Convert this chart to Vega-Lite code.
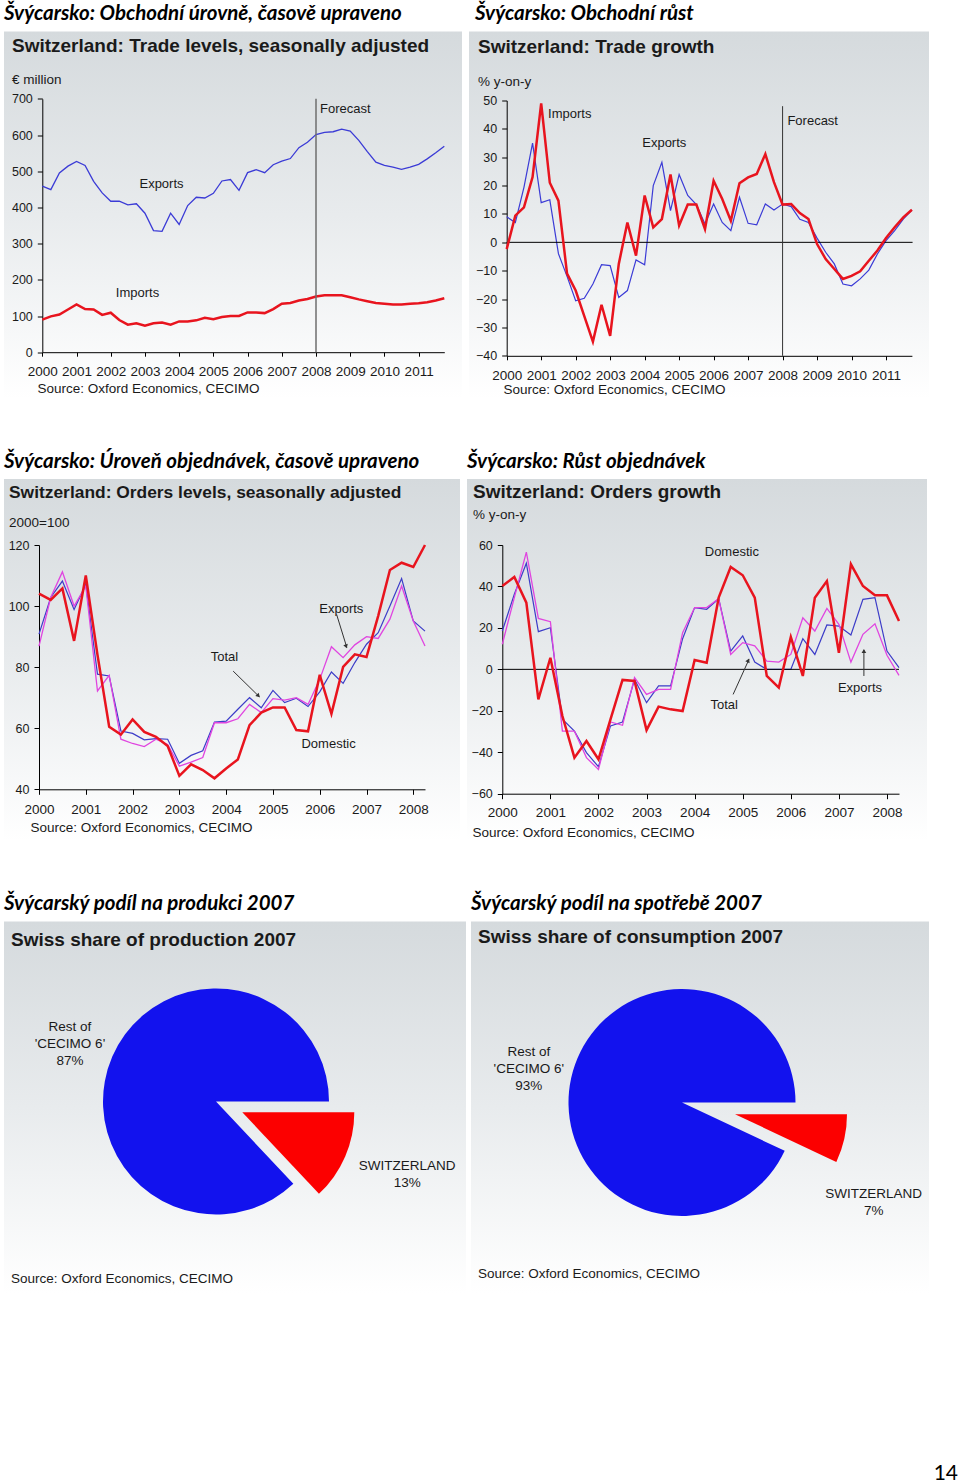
{
  "$schema": "https://vega.github.io/schema/vega-lite/v6.json",
  "background": "white",
  "padding": {"left": 4, "top": 3.5, "right": 0, "bottom": 0},
  "title": {"text": "14", "orient": "bottom", "anchor": "end", "offset": 169, "dx": 29, "font": "Lato", "fontSize": 21, "fontWeight": "normal", "color": "#000000"},
  "datasets": {
    "tradeLevels": [
      {"year": 2000.00, "Exports": 459, "Imports": 90},
      {"year": 2000.25, "Exports": 449, "Imports": 99},
      {"year": 2000.50, "Exports": 495, "Imports": 104},
      {"year": 2000.75, "Exports": 514, "Imports": 118},
      {"year": 2001.00, "Exports": 527, "Imports": 132},
      {"year": 2001.25, "Exports": 516, "Imports": 119},
      {"year": 2001.50, "Exports": 472, "Imports": 118},
      {"year": 2001.75, "Exports": 440, "Imports": 103},
      {"year": 2002.00, "Exports": 417, "Imports": 109},
      {"year": 2002.25, "Exports": 417, "Imports": 89},
      {"year": 2002.50, "Exports": 407, "Imports": 76},
      {"year": 2002.75, "Exports": 410, "Imports": 80},
      {"year": 2003.00, "Exports": 384, "Imports": 73},
      {"year": 2003.25, "Exports": 336, "Imports": 80},
      {"year": 2003.50, "Exports": 334, "Imports": 82},
      {"year": 2003.75, "Exports": 384, "Imports": 76},
      {"year": 2004.00, "Exports": 353, "Imports": 85},
      {"year": 2004.25, "Exports": 405, "Imports": 85},
      {"year": 2004.50, "Exports": 428, "Imports": 88},
      {"year": 2004.75, "Exports": 426, "Imports": 95},
      {"year": 2005.00, "Exports": 439, "Imports": 91},
      {"year": 2005.25, "Exports": 473, "Imports": 97},
      {"year": 2005.50, "Exports": 477, "Imports": 100},
      {"year": 2005.75, "Exports": 447, "Imports": 100},
      {"year": 2006.00, "Exports": 496, "Imports": 110},
      {"year": 2006.25, "Exports": 504, "Imports": 110},
      {"year": 2006.50, "Exports": 496, "Imports": 108},
      {"year": 2006.75, "Exports": 518, "Imports": 119},
      {"year": 2007.00, "Exports": 528, "Imports": 134},
      {"year": 2007.25, "Exports": 535, "Imports": 136},
      {"year": 2007.50, "Exports": 565, "Imports": 143},
      {"year": 2007.75, "Exports": 580, "Imports": 147},
      {"year": 2008.00, "Exports": 601, "Imports": 154},
      {"year": 2008.25, "Exports": 607, "Imports": 157},
      {"year": 2008.50, "Exports": 609, "Imports": 157},
      {"year": 2008.75, "Exports": 616, "Imports": 157},
      {"year": 2009.00, "Exports": 611, "Imports": 152},
      {"year": 2009.25, "Exports": 585, "Imports": 146},
      {"year": 2009.50, "Exports": 554, "Imports": 141},
      {"year": 2009.75, "Exports": 525, "Imports": 136},
      {"year": 2010.00, "Exports": 516, "Imports": 134},
      {"year": 2010.25, "Exports": 511, "Imports": 132},
      {"year": 2010.50, "Exports": 505, "Imports": 132},
      {"year": 2010.75, "Exports": 511, "Imports": 134},
      {"year": 2011.00, "Exports": 519, "Imports": 135},
      {"year": 2011.25, "Exports": 534, "Imports": 138},
      {"year": 2011.50, "Exports": 551, "Imports": 143},
      {"year": 2011.75, "Exports": 569, "Imports": 149}
    ],
    "tradeGrowth": [
      {"year": 2000.00, "Exports": 9, "Imports": -2.4},
      {"year": 2000.25, "Exports": 7, "Imports": 9.4},
      {"year": 2000.50, "Exports": 19.4, "Imports": 12.3},
      {"year": 2000.75, "Exports": 35, "Imports": 23},
      {"year": 2001.00, "Exports": 14, "Imports": 49},
      {"year": 2001.25, "Exports": 15, "Imports": 21},
      {"year": 2001.50, "Exports": -4, "Imports": 14.7},
      {"year": 2001.75, "Exports": -12, "Imports": -11},
      {"year": 2002.00, "Exports": -20.6, "Imports": -17},
      {"year": 2002.25, "Exports": -19.7, "Imports": -26},
      {"year": 2002.50, "Exports": -14.7, "Imports": -35},
      {"year": 2002.75, "Exports": -7.9, "Imports": -22},
      {"year": 2003.00, "Exports": -8.2, "Imports": -33},
      {"year": 2003.25, "Exports": -19.4, "Imports": -7.6},
      {"year": 2003.50, "Exports": -17, "Imports": 7},
      {"year": 2003.75, "Exports": -6.2, "Imports": -4.7},
      {"year": 2004.00, "Exports": -7.9, "Imports": 16.5},
      {"year": 2004.25, "Exports": 20, "Imports": 5.3},
      {"year": 2004.50, "Exports": 28.2, "Imports": 8.2},
      {"year": 2004.75, "Exports": 11.2, "Imports": 23.9},
      {"year": 2005.00, "Exports": 23.9, "Imports": 5.9},
      {"year": 2005.25, "Exports": 16.5, "Imports": 13.3},
      {"year": 2005.50, "Exports": 13.3, "Imports": 13.3},
      {"year": 2005.75, "Exports": 6.5, "Imports": 4.7},
      {"year": 2006.00, "Exports": 13.5, "Imports": 21.7},
      {"year": 2006.25, "Exports": 7, "Imports": 15.3},
      {"year": 2006.50, "Exports": 4.1, "Imports": 7.6},
      {"year": 2006.75, "Exports": 15.9, "Imports": 20.8},
      {"year": 2007.00, "Exports": 6.7, "Imports": 22.9},
      {"year": 2007.25, "Exports": 6.2, "Imports": 24.1},
      {"year": 2007.50, "Exports": 13.5, "Imports": 31.1},
      {"year": 2007.75, "Exports": 11.4, "Imports": 21.2},
      {"year": 2008.00, "Exports": 13.5, "Imports": 13.3},
      {"year": 2008.25, "Exports": 12.6, "Imports": 13.5},
      {"year": 2008.50, "Exports": 8.1, "Imports": 10.3},
      {"year": 2008.75, "Exports": 7, "Imports": 8.2},
      {"year": 2009.00, "Exports": 1.5, "Imports": -0.6},
      {"year": 2009.25, "Exports": -3.5, "Imports": -5.9},
      {"year": 2009.50, "Exports": -7.6, "Imports": -9.4},
      {"year": 2009.75, "Exports": -14.7, "Imports": -12.9},
      {"year": 2010.00, "Exports": -15.3, "Imports": -11.8},
      {"year": 2010.25, "Exports": -12.9, "Imports": -10.2},
      {"year": 2010.50, "Exports": -9.8, "Imports": -6.5},
      {"year": 2010.75, "Exports": -4.1, "Imports": -2.9},
      {"year": 2011.00, "Exports": 0.6, "Imports": 1.5},
      {"year": 2011.25, "Exports": 4.1, "Imports": 5.3},
      {"year": 2011.50, "Exports": 8.2, "Imports": 8.8},
      {"year": 2011.75, "Exports": 11.4, "Imports": 11.5}
    ],
    "ordersLevels": [
      {"year": 2000.00, "Domestic": 104.1, "Total": 90.8, "Exports": 86.9},
      {"year": 2000.25, "Domestic": 102, "Total": 102.8, "Exports": 102.8},
      {"year": 2000.50, "Domestic": 105.8, "Total": 108.2, "Exports": 111.2},
      {"year": 2000.75, "Domestic": 88.6, "Total": 98.9, "Exports": 100},
      {"year": 2001.00, "Domestic": 110, "Total": 107.1, "Exports": 106.6},
      {"year": 2001.25, "Domestic": 84, "Total": 77.7, "Exports": 72.2},
      {"year": 2001.50, "Domestic": 60.5, "Total": 77.1, "Exports": 77.3},
      {"year": 2001.75, "Domestic": 57.9, "Total": 59.1, "Exports": 56.4},
      {"year": 2002.00, "Domestic": 62.9, "Total": 58.3, "Exports": 55},
      {"year": 2002.25, "Domestic": 58.8, "Total": 56.2, "Exports": 54},
      {"year": 2002.50, "Domestic": 57.2, "Total": 56.6, "Exports": 56.4},
      {"year": 2002.75, "Domestic": 54.2, "Total": 56.4, "Exports": 54.7},
      {"year": 2003.00, "Domestic": 44.4, "Total": 48.5, "Exports": 47.6},
      {"year": 2003.25, "Domestic": 48.2, "Total": 51.1, "Exports": 48.9},
      {"year": 2003.50, "Domestic": 46.3, "Total": 52.6, "Exports": 50.4},
      {"year": 2003.75, "Domestic": 43.6, "Total": 62, "Exports": 61.8},
      {"year": 2004.00, "Domestic": 46.8, "Total": 62.3, "Exports": 61.8},
      {"year": 2004.25, "Domestic": 49.8, "Total": 66.2, "Exports": 63.1},
      {"year": 2004.50, "Domestic": 61, "Total": 70, "Exports": 67.8},
      {"year": 2004.75, "Domestic": 65.1, "Total": 66.7, "Exports": 65.1},
      {"year": 2005.00, "Domestic": 66.8, "Total": 72.4, "Exports": 69.7},
      {"year": 2005.25, "Domestic": 66.8, "Total": 68.4, "Exports": 69.2},
      {"year": 2005.50, "Domestic": 59.4, "Total": 69.8, "Exports": 70},
      {"year": 2005.75, "Domestic": 59, "Total": 67.1, "Exports": 67.8},
      {"year": 2006.00, "Domestic": 77.5, "Total": 71.9, "Exports": 76},
      {"year": 2006.25, "Domestic": 64.7, "Total": 78.4, "Exports": 86.7},
      {"year": 2006.50, "Domestic": 80.1, "Total": 74.7, "Exports": 83.1},
      {"year": 2006.75, "Domestic": 84.2, "Total": 81.5, "Exports": 87.3},
      {"year": 2007.00, "Domestic": 83.3, "Total": 87.5, "Exports": 90},
      {"year": 2007.25, "Domestic": 96.8, "Total": 91.3, "Exports": 89.4},
      {"year": 2007.50, "Domestic": 111.8, "Total": 100, "Exports": 95.7},
      {"year": 2007.75, "Domestic": 114.2, "Total": 109, "Exports": 106.6},
      {"year": 2008.00, "Domestic": 112.8, "Total": 95.1, "Exports": 95.1},
      {"year": 2008.25, "Domestic": 120, "Total": 91.8, "Exports": 86.9}
    ],
    "ordersGrowth": [
      {"year": 2000.00, "Domestic": 40.2, "Total": 18.5, "Exports": 12.1},
      {"year": 2000.25, "Domestic": 44.6, "Total": 36.2, "Exports": 34.6},
      {"year": 2000.50, "Domestic": 32.2, "Total": 51.2, "Exports": 56.6},
      {"year": 2000.75, "Domestic": -14.5, "Total": 18.2, "Exports": 24.6},
      {"year": 2001.00, "Domestic": 5.6, "Total": 20.1, "Exports": 23},
      {"year": 2001.25, "Domestic": -22.5, "Total": -24.1, "Exports": -29.8},
      {"year": 2001.50, "Domestic": -42.6, "Total": -29.8, "Exports": -29.8},
      {"year": 2001.75, "Domestic": -34.6, "Total": -40.2, "Exports": -42.6},
      {"year": 2002.00, "Domestic": -43.4, "Total": -47, "Exports": -48.3},
      {"year": 2002.25, "Domestic": -24.1, "Total": -27.3, "Exports": -25.4},
      {"year": 2002.50, "Domestic": -5.1, "Total": -25.4, "Exports": -27},
      {"year": 2002.75, "Domestic": -5.6, "Total": -4.8, "Exports": -4},
      {"year": 2003.00, "Domestic": -29.3, "Total": -16.1, "Exports": -12.1},
      {"year": 2003.25, "Domestic": -18, "Total": -8, "Exports": -9.7},
      {"year": 2003.50, "Domestic": -19.3, "Total": -8, "Exports": -9.7},
      {"year": 2003.75, "Domestic": -20.1, "Total": 14.8, "Exports": 17.7},
      {"year": 2004.00, "Domestic": 4.5, "Total": 29.8, "Exports": 29.8},
      {"year": 2004.25, "Domestic": 3.2, "Total": 29, "Exports": 29.8},
      {"year": 2004.50, "Domestic": 34.6, "Total": 34.1, "Exports": 34.1},
      {"year": 2004.75, "Domestic": 49.4, "Total": 8.8, "Exports": 7.2},
      {"year": 2005.00, "Domestic": 45.4, "Total": 16.1, "Exports": 12.9},
      {"year": 2005.25, "Domestic": 34.6, "Total": 3.5, "Exports": 11.3},
      {"year": 2005.50, "Domestic": -3.2, "Total": 0, "Exports": 4},
      {"year": 2005.75, "Domestic": -8.8, "Total": 0, "Exports": 3.5},
      {"year": 2006.00, "Domestic": 15.6, "Total": 0, "Exports": 7.2},
      {"year": 2006.25, "Domestic": -3.2, "Total": 14.8, "Exports": 24.9},
      {"year": 2006.50, "Domestic": 34.6, "Total": 7.2, "Exports": 18.5},
      {"year": 2006.75, "Domestic": 42.6, "Total": 21.4, "Exports": 29.4},
      {"year": 2007.00, "Domestic": 8, "Total": 20.9, "Exports": 21.7},
      {"year": 2007.25, "Domestic": 50.7, "Total": 16.6, "Exports": 3.5},
      {"year": 2007.50, "Domestic": 40.2, "Total": 33.8, "Exports": 16.9},
      {"year": 2007.75, "Domestic": 35.7, "Total": 34.6, "Exports": 22},
      {"year": 2008.00, "Domestic": 35.7, "Total": 8.8, "Exports": 6.8},
      {"year": 2008.25, "Domestic": 23.3, "Total": 0.8, "Exports": -2.9}
    ],
    "production": [
      {"region": "SWITZERLAND", "share": 13},
      {"region": "Rest of\n'CECIMO 6'", "share": 87}
    ],
    "consumption": [
      {"region": "SWITZERLAND", "share": 7},
      {"region": "Rest of\n'CECIMO 6'", "share": 93}
    ]
  },
  "vconcat": [
    {
      "spacing": 7,
      "hconcat": [
        {
          "title": {"text": "Švýcarsko: Obchodní úrovně, časově upraveno", "anchor": "start", "frame": "group", "offset": 7, "dx": 0, "font": "Lato", "fontSize": 20.5, "fontStyle": "italic", "fontWeight": "bold", "color": "#000000"},
          "vconcat": [
            {
              "width": 458, "height": 367,
              "title": {"text": "Switzerland: Trade levels, seasonally adjusted", "subtitle": "€ million", "anchor": "start", "frame": "group", "offset": -54.7, "dx": 8, "subtitlePadding": 16.4, "font": "Liberation Sans", "fontSize": 19, "fontWeight": "bold", "color": "#1a1a1a", "subtitleFont": "Liberation Sans", "subtitleFontSize": 13.5, "subtitleColor": "#1a1a1a"},
              "data": {"name": "tradeLevels"},
              "layer": [
                {
                  "mark": {"type": "line", "color": "#3b3bd6", "strokeWidth": 1.3},
                  "encoding": {
                    "x": {"field": "year", "type": "quantitative", "scale": {"domain": [2000, 2011.75], "range": [38.3, 440.3], "nice": false, "zero": false},
                          "axis": {"values": [2000, 2001, 2002, 2003, 2004, 2005, 2006, 2007, 2008, 2009, 2010, 2011], "format": "d", "offset": -46.3, "tickSize": 4, "labelPadding": 8.3, "labelFontSize": 13.5, "title": "Source: Oxford Economics, CECIMO", "titleX": 33, "titleY": 29.5, "titleAlign": "left", "titleBaseline": "top"}},
                    "y": {"field": "Exports", "type": "quantitative", "scale": {"domain": [0, 700], "range": [320.7, 67.3], "nice": false, "zero": false},
                          "axis": {"values": [0, 100, 200, 300, 400, 500, 600, 700], "format": "d", "offset": -38.3, "tickSize": 5, "labelPadding": 5, "labelFontSize": 12.5, "title": null}}
                  }
                },
                {
                  "mark": {"type": "line", "color": "#e8141e", "strokeWidth": 2.5},
                  "encoding": {
                    "x": {"field": "year", "type": "quantitative"},
                    "y": {"field": "Imports", "type": "quantitative"}
                  }
                },
                {
                  "data": {"values": [{}]},
                  "mark": {"type": "rule", "color": "#6e6e6e", "strokeWidth": 1.5},
                  "encoding": {
                    "x": {"datum": 2008, "type": "quantitative"},
                    "y": {"datum": 0, "type": "quantitative"},
                    "y2": {"datum": 700}
                  }
                },
                {
                  "data": {"values": [{}]},
                  "mark": {"type": "text", "align": "left", "baseline": "middle"},
                  "encoding": {"x": {"datum": 2008.12, "type": "quantitative"}, "y": {"datum": 673, "type": "quantitative"}, "text": {"value": "Forecast"}}
                },
                {
                  "data": {"values": [{}]},
                  "mark": {"type": "text", "align": "left", "baseline": "middle"},
                  "encoding": {"x": {"datum": 2002.84, "type": "quantitative"}, "y": {"datum": 466, "type": "quantitative"}, "text": {"value": "Exports"}}
                },
                {
                  "data": {"values": [{}]},
                  "mark": {"type": "text", "align": "left", "baseline": "middle"},
                  "encoding": {"x": {"datum": 2002.15, "type": "quantitative"}, "y": {"datum": 164, "type": "quantitative"}, "text": {"value": "Imports"}}
                }
              ]
            }
          ]
        },
        {
          "title": {"text": "Švýcarsko: Obchodní růst", "anchor": "start", "frame": "group", "offset": 7, "dx": 6, "font": "Lato", "fontSize": 20.5, "fontStyle": "italic", "fontWeight": "bold", "color": "#000000"},
          "vconcat": [
            {
              "width": 460, "height": 367,
              "title": {"text": "Switzerland: Trade growth", "subtitle": "% y-on-y", "anchor": "start", "frame": "group", "offset": -56.7, "dx": 9, "subtitlePadding": 17.4, "font": "Liberation Sans", "fontSize": 19, "fontWeight": "bold", "color": "#1a1a1a", "subtitleFont": "Liberation Sans", "subtitleFontSize": 13.5, "subtitleColor": "#1a1a1a"},
              "data": {"name": "tradeGrowth"},
              "layer": [
                {
                  "mark": {"type": "line", "color": "#3b3bd6", "strokeWidth": 1.2},
                  "encoding": {
                    "x": {"field": "year", "type": "quantitative", "scale": {"domain": [2000, 2011.75], "range": [37.7, 442.9], "nice": false, "zero": false},
                          "axis": {"values": [2000, 2001, 2002, 2003, 2004, 2005, 2006, 2007, 2008, 2009, 2010, 2011], "format": "d", "offset": -42.7, "tickSize": 4, "labelPadding": 8.2, "labelFontSize": 13.5, "title": "Source: Oxford Economics, CECIMO", "titleX": 34, "titleY": 26.9, "titleAlign": "left", "titleBaseline": "top"}},
                    "y": {"field": "Exports", "type": "quantitative", "scale": {"domain": [-40, 50], "range": [324.3, 69], "nice": false, "zero": false},
                          "axis": {"values": [-40, -30, -20, -10, 0, 10, 20, 30, 40, 50], "format": "d", "offset": -37.7, "tickSize": 5, "labelPadding": 5, "labelFontSize": 12.5, "title": null}}
                  }
                },
                {
                  "data": {"values": [{}]},
                  "mark": {"type": "rule", "color": "#000000", "strokeWidth": 1},
                  "encoding": {
                    "x": {"datum": 2000, "type": "quantitative"},
                    "x2": {"datum": 2011.77},
                    "y": {"datum": 0, "type": "quantitative"}
                  }
                },
                {
                  "data": {"values": [{}]},
                  "mark": {"type": "rule", "color": "#333333", "strokeWidth": 1},
                  "encoding": {
                    "x": {"datum": 2008, "type": "quantitative"},
                    "y": {"datum": -40, "type": "quantitative"},
                    "y2": {"datum": 48}
                  }
                },
                {
                  "mark": {"type": "line", "color": "#e8141e", "strokeWidth": 2.5},
                  "encoding": {
                    "x": {"field": "year", "type": "quantitative"},
                    "y": {"field": "Imports", "type": "quantitative"}
                  }
                },
                {
                  "data": {"values": [{}]},
                  "mark": {"type": "text", "align": "left", "baseline": "middle"},
                  "encoding": {"x": {"datum": 2008.14, "type": "quantitative"}, "y": {"datum": 42.6, "type": "quantitative"}, "text": {"value": "Forecast"}}
                },
                {
                  "data": {"values": [{}]},
                  "mark": {"type": "text", "align": "left", "baseline": "middle"},
                  "encoding": {"x": {"datum": 2001.2, "type": "quantitative"}, "y": {"datum": 45.3, "type": "quantitative"}, "text": {"value": "Imports"}}
                },
                {
                  "data": {"values": [{}]},
                  "mark": {"type": "text", "align": "left", "baseline": "middle"},
                  "encoding": {"x": {"datum": 2003.93, "type": "quantitative"}, "y": {"datum": 35, "type": "quantitative"}, "text": {"value": "Exports"}}
                }
              ]
            }
          ]
        }
      ]
    },
    {
      "spacing": 7,
      "hconcat": [
        {
          "title": {"text": "Švýcarsko: Úroveň objednávek, časově upraveno", "anchor": "start", "frame": "group", "offset": 7, "dx": 0, "font": "Lato", "fontSize": 20.5, "fontStyle": "italic", "fontWeight": "bold", "color": "#000000"},
          "vconcat": [
            {
              "width": 456, "height": 362,
              "title": {"text": "Switzerland: Orders levels, seasonally adjusted", "subtitle": "2000=100", "anchor": "start", "frame": "group", "offset": -50.7, "dx": 5, "subtitlePadding": 15.3, "font": "Liberation Sans", "fontSize": 17.4, "fontWeight": "bold", "color": "#1a1a1a", "subtitleFont": "Liberation Sans", "subtitleFontSize": 13.5, "subtitleColor": "#1a1a1a"},
              "data": {"name": "ordersLevels"},
              "layer": [
                {
                  "mark": {"type": "line", "color": "#3c3cc8", "strokeWidth": 1.2},
                  "encoding": {
                    "x": {"field": "year", "type": "quantitative", "scale": {"domain": [2000, 2008.25], "range": [35, 421], "nice": false, "zero": false},
                          "axis": {"values": [2000, 2001, 2002, 2003, 2004, 2005, 2006, 2007, 2008], "format": "d", "offset": -51.7, "tickSize": 5, "labelPadding": 7.8, "labelFontSize": 13.5, "title": "Source: Oxford Economics, CECIMO", "titleX": 26, "titleY": 31.6, "titleAlign": "left", "titleBaseline": "top"}},
                    "y": {"field": "Total", "type": "quantitative", "scale": {"domain": [40, 120], "range": [310.3, 66], "nice": false, "zero": false},
                          "axis": {"values": [40, 60, 80, 100, 120], "format": "d", "offset": -35, "tickSize": 5, "labelPadding": 5, "labelFontSize": 12.5, "title": null}}
                  }
                },
                {
                  "mark": {"type": "line", "color": "#e045e0", "strokeWidth": 1.3},
                  "encoding": {
                    "x": {"field": "year", "type": "quantitative"},
                    "y": {"field": "Exports", "type": "quantitative"}
                  }
                },
                {
                  "mark": {"type": "line", "color": "#e8141e", "strokeWidth": 2.5},
                  "encoding": {
                    "x": {"field": "year", "type": "quantitative"},
                    "y": {"field": "Domestic", "type": "quantitative"}
                  }
                },
                {
                  "data": {"values": [{}]},
                  "mark": {"type": "text", "align": "left", "baseline": "middle"},
                  "encoding": {"x": {"datum": 2005.99, "type": "quantitative"}, "y": {"datum": 99.1, "type": "quantitative"}, "text": {"value": "Exports"}}
                },
                {
                  "data": {"values": [{}]},
                  "mark": {"type": "text", "align": "left", "baseline": "middle"},
                  "encoding": {"x": {"datum": 2003.67, "type": "quantitative"}, "y": {"datum": 83.4, "type": "quantitative"}, "text": {"value": "Total"}}
                },
                {
                  "data": {"values": [{}]},
                  "mark": {"type": "text", "align": "left", "baseline": "middle"},
                  "encoding": {"x": {"datum": 2005.61, "type": "quantitative"}, "y": {"datum": 54.9, "type": "quantitative"}, "text": {"value": "Domestic"}}
                },
                {
                  "data": {"values": [{}]},
                  "mark": {"type": "rule", "color": "#333333", "strokeWidth": 1},
                  "encoding": {"x": {"datum": 2006.36, "type": "quantitative"}, "y": {"datum": 97.3, "type": "quantitative"}, "x2": {"datum": 2006.58}, "y2": {"datum": 86.4}}
                },
                {
                  "data": {"values": [{}]},
                  "mark": {"type": "point", "shape": "triangle", "filled": true, "color": "#333333", "size": 22, "opacity": 1},
                  "encoding": {"x": {"datum": 2006.56, "type": "quantitative"}, "y": {"datum": 87, "type": "quantitative"}, "angle": {"value": 163}}
                },
                {
                  "data": {"values": [{}]},
                  "mark": {"type": "rule", "color": "#333333", "strokeWidth": 1},
                  "encoding": {"x": {"datum": 2004.15, "type": "quantitative"}, "y": {"datum": 78.7, "type": "quantitative"}, "x2": {"datum": 2004.71}, "y2": {"datum": 70.3}}
                },
                {
                  "data": {"values": [{}]},
                  "mark": {"type": "point", "shape": "triangle", "filled": true, "color": "#333333", "size": 22, "opacity": 1},
                  "encoding": {"x": {"datum": 2004.68, "type": "quantitative"}, "y": {"datum": 70.8, "type": "quantitative"}, "angle": {"value": 135}}
                }
              ]
            }
          ]
        },
        {
          "title": {"text": "Švýcarsko: Růst objednávek", "anchor": "start", "frame": "group", "offset": 7, "dx": 0, "font": "Lato", "fontSize": 20.5, "fontStyle": "italic", "fontWeight": "bold", "color": "#000000"},
          "vconcat": [
            {
              "width": 460, "height": 362,
              "title": {"text": "Switzerland: Orders growth", "subtitle": "% y-on-y", "anchor": "start", "frame": "group", "offset": -42.7, "dx": 6, "subtitlePadding": 6.4, "font": "Liberation Sans", "fontSize": 19, "fontWeight": "bold", "color": "#1a1a1a", "subtitleFont": "Liberation Sans", "subtitleFontSize": 13.5, "subtitleColor": "#1a1a1a"},
              "data": {"name": "ordersGrowth"},
              "layer": [
                {
                  "mark": {"type": "line", "color": "#3c3cc8", "strokeWidth": 1.2},
                  "encoding": {
                    "x": {"field": "year", "type": "quantitative", "scale": {"domain": [2000, 2008.25], "range": [35.3, 432], "nice": false, "zero": false},
                          "axis": {"values": [2000, 2001, 2002, 2003, 2004, 2005, 2006, 2007, 2008], "format": "d", "offset": -47.3, "tickSize": 5, "labelPadding": 7.2, "labelFontSize": 13.5, "title": "Source: Oxford Economics, CECIMO", "titleX": 5, "titleY": 31.5, "titleAlign": "left", "titleBaseline": "top"}},
                    "y": {"field": "Total", "type": "quantitative", "scale": {"domain": [-60, 60], "range": [314.7, 66], "nice": false, "zero": false},
                          "axis": {"values": [-60, -40, -20, 0, 20, 40, 60], "format": "d", "offset": -35.3, "tickSize": 5, "labelPadding": 5, "labelFontSize": 12.5, "title": null}}
                  }
                },
                {
                  "data": {"values": [{}]},
                  "mark": {"type": "rule", "color": "#000000", "strokeWidth": 1},
                  "encoding": {
                    "x": {"datum": 2000, "type": "quantitative"},
                    "x2": {"datum": 2008.25},
                    "y": {"datum": 0, "type": "quantitative"}
                  }
                },
                {
                  "mark": {"type": "line", "color": "#e045e0", "strokeWidth": 1.3},
                  "encoding": {
                    "x": {"field": "year", "type": "quantitative"},
                    "y": {"field": "Exports", "type": "quantitative"}
                  }
                },
                {
                  "mark": {"type": "line", "color": "#e8141e", "strokeWidth": 2.5},
                  "encoding": {
                    "x": {"field": "year", "type": "quantitative"},
                    "y": {"field": "Domestic", "type": "quantitative"}
                  }
                },
                {
                  "data": {"values": [{}]},
                  "mark": {"type": "text", "align": "left", "baseline": "middle"},
                  "encoding": {"x": {"datum": 2004.21, "type": "quantitative"}, "y": {"datum": 56.8, "type": "quantitative"}, "text": {"value": "Domestic"}}
                },
                {
                  "data": {"values": [{}]},
                  "mark": {"type": "text", "align": "left", "baseline": "middle"},
                  "encoding": {"x": {"datum": 2004.33, "type": "quantitative"}, "y": {"datum": -17.1, "type": "quantitative"}, "text": {"value": "Total"}}
                },
                {
                  "data": {"values": [{}]},
                  "mark": {"type": "text", "align": "left", "baseline": "middle"},
                  "encoding": {"x": {"datum": 2006.98, "type": "quantitative"}, "y": {"datum": -9.2, "type": "quantitative"}, "text": {"value": "Exports"}}
                },
                {
                  "data": {"values": [{}]},
                  "mark": {"type": "rule", "color": "#333333", "strokeWidth": 1},
                  "encoding": {"x": {"datum": 2004.8, "type": "quantitative"}, "y": {"datum": -12.1, "type": "quantitative"}, "x2": {"datum": 2005.13}, "y2": {"datum": 4.8}}
                },
                {
                  "data": {"values": [{}]},
                  "mark": {"type": "point", "shape": "triangle", "filled": true, "color": "#333333", "size": 22, "opacity": 1},
                  "encoding": {"x": {"datum": 2005.11, "type": "quantitative"}, "y": {"datum": 4.0, "type": "quantitative"}, "angle": {"value": 25}}
                },
                {
                  "data": {"values": [{}]},
                  "mark": {"type": "rule", "color": "#333333", "strokeWidth": 1},
                  "encoding": {"x": {"datum": 2007.52, "type": "quantitative"}, "y": {"datum": -3.2, "type": "quantitative"}, "y2": {"datum": 9.3}}
                },
                {
                  "data": {"values": [{}]},
                  "mark": {"type": "point", "shape": "triangle", "filled": true, "color": "#333333", "size": 22, "opacity": 1},
                  "encoding": {"x": {"datum": 2007.52, "type": "quantitative"}, "y": {"datum": 8.5, "type": "quantitative"}, "angle": {"value": 0}}
                }
              ]
            }
          ]
        }
      ]
    },
    {
      "spacing": 5,
      "hconcat": [
        {
          "title": {"text": "Švýcarský podíl na produkci 2007", "anchor": "start", "frame": "group", "offset": 7, "dx": 0, "font": "Lato", "fontSize": 20.5, "fontStyle": "italic", "fontWeight": "bold", "color": "#000000"},
          "vconcat": [
            {
              "width": 462, "height": 372,
              "title": {"text": "Swiss share of production 2007", "subtitle": "Source: Oxford Economics, CECIMO", "anchor": "start", "frame": "group", "offset": -363.7, "dx": 7, "subtitlePadding": 321.4, "font": "Liberation Sans", "fontSize": 19, "fontWeight": "bold", "color": "#1a1a1a", "subtitleFont": "Liberation Sans", "subtitleFontSize": 13.5, "subtitleColor": "#1a1a1a"},
              "data": {"name": "production"},
              "transform": [{"calculate": "datum.region + '\\n' + datum.share + '%'", "as": "label"}],
              "layer": [
                {
                  "data": {"values": [{}]},
                  "mark": {"type": "rect", "color": {"gradient": "linear", "x1": 0, "y1": 0, "x2": 0, "y2": 1, "stops": [{"offset": 0, "color": "#d5dadd"}, {"offset": 0.5, "color": "#e8ebed"}, {"offset": 1, "color": "#ffffff"}]}},
                  "encoding": {}
                },
                {
                  "mark": {"type": "arc", "outerRadius": 113, "xOffset": -19, "yOffset": -6},
                  "encoding": {
                    "theta": {"field": "share", "type": "quantitative", "stack": true, "scale": {"domain": [0, 100], "range": [1.5708, 7.854]}},
                    "order": {"field": "share", "type": "quantitative", "sort": "ascending"},
                    "fill": {"condition": {"test": "datum.region === 'SWITZERLAND'", "value": "transparent"}, "value": "#1212ee"}
                  }
                },
                {
                  "mark": {"type": "arc", "outerRadius": 112, "xOffset": 7.3, "yOffset": 4.7},
                  "encoding": {
                    "theta": {"field": "share", "type": "quantitative", "stack": true},
                    "order": {"field": "share", "type": "quantitative", "sort": "ascending"},
                    "fill": {"condition": {"test": "datum.region === 'SWITZERLAND'", "value": "#fc0000"}, "value": "transparent"}
                  }
                },
                {
                  "mark": {"type": "text", "radius": 158, "dx": -20, "dy": -18, "lineBreak": "\n", "lineHeight": 17, "fontSize": 13.5, "align": "center", "baseline": "middle"},
                  "encoding": {
                    "theta": {"field": "share", "type": "quantitative", "stack": true},
                    "order": {"field": "share", "type": "quantitative", "sort": "ascending"},
                    "text": {"field": "label"},
                    "opacity": {"condition": {"test": "datum.region === 'SWITZERLAND'", "value": 0}, "value": 1}
                  }
                },
                {
                  "mark": {"type": "text", "radius": 180, "dx": 7, "dy": -12.5, "lineBreak": "\n", "lineHeight": 17, "fontSize": 13.5, "align": "center", "baseline": "middle"},
                  "encoding": {
                    "theta": {"field": "share", "type": "quantitative", "stack": true},
                    "order": {"field": "share", "type": "quantitative", "sort": "ascending"},
                    "text": {"field": "label"},
                    "opacity": {"condition": {"test": "datum.region === 'SWITZERLAND'", "value": 1}, "value": 0}
                  }
                }
              ]
            }
          ]
        },
        {
          "title": {"text": "Švýcarský podíl na spotřebě 2007", "anchor": "start", "frame": "group", "offset": 7, "dx": 0, "font": "Lato", "fontSize": 20.5, "fontStyle": "italic", "fontWeight": "bold", "color": "#000000"},
          "vconcat": [
            {
              "width": 458, "height": 372,
              "title": {"text": "Swiss share of consumption 2007", "subtitle": "Source: Oxford Economics, CECIMO", "anchor": "start", "frame": "group", "offset": -358.7, "dx": 7, "subtitlePadding": 319.4, "font": "Liberation Sans", "fontSize": 19, "fontWeight": "bold", "color": "#1a1a1a", "subtitleFont": "Liberation Sans", "subtitleFontSize": 13.5, "subtitleColor": "#1a1a1a"},
              "data": {"name": "consumption"},
              "transform": [{"calculate": "datum.region + '\\n' + datum.share + '%'", "as": "label"}],
              "layer": [
                {
                  "data": {"values": [{}]},
                  "mark": {"type": "rect", "color": {"gradient": "linear", "x1": 0, "y1": 0, "x2": 0, "y2": 1, "stops": [{"offset": 0, "color": "#d5dadd"}, {"offset": 0.5, "color": "#e8ebed"}, {"offset": 1, "color": "#ffffff"}]}},
                  "encoding": {}
                },
                {
                  "mark": {"type": "arc", "outerRadius": 113.5, "xOffset": -18, "yOffset": -5},
                  "encoding": {
                    "theta": {"field": "share", "type": "quantitative", "stack": true, "scale": {"domain": [0, 100], "range": [1.5708, 7.854]}},
                    "order": {"field": "share", "type": "quantitative", "sort": "ascending"},
                    "fill": {"condition": {"test": "datum.region === 'SWITZERLAND'", "value": "transparent"}, "value": "#1212ee"}
                  }
                },
                {
                  "mark": {"type": "arc", "outerRadius": 112, "xOffset": 35, "yOffset": 6.7},
                  "encoding": {
                    "theta": {"field": "share", "type": "quantitative", "stack": true},
                    "order": {"field": "share", "type": "quantitative", "sort": "ascending"},
                    "fill": {"condition": {"test": "datum.region === 'SWITZERLAND'", "value": "#fc0000"}, "value": "transparent"}
                  }
                },
                {
                  "mark": {"type": "text", "radius": 157, "dx": -18, "dy": -21, "lineBreak": "\n", "lineHeight": 17, "fontSize": 13.5, "align": "center", "baseline": "middle"},
                  "encoding": {
                    "theta": {"field": "share", "type": "quantitative", "stack": true},
                    "order": {"field": "share", "type": "quantitative", "sort": "ascending"},
                    "text": {"field": "label"},
                    "opacity": {"condition": {"test": "datum.region === 'SWITZERLAND'", "value": 0}, "value": 1}
                  }
                },
                {
                  "mark": {"type": "text", "radius": 180, "dx": -2, "dy": 47, "lineBreak": "\n", "lineHeight": 17, "fontSize": 13.5, "align": "center", "baseline": "middle"},
                  "encoding": {
                    "theta": {"field": "share", "type": "quantitative", "stack": true},
                    "order": {"field": "share", "type": "quantitative", "sort": "ascending"},
                    "text": {"field": "label"},
                    "opacity": {"condition": {"test": "datum.region === 'SWITZERLAND'", "value": 1}, "value": 0}
                  }
                }
              ]
            }
          ]
        }
      ]
    }
  ],
  "spacing": 52.5,
  "config": {
    "view": {"stroke": null, "fill": {"gradient": "linear", "x1": 0, "y1": 0, "x2": 0, "y2": 1, "stops": [{"offset": 0, "color": "#d5dadd"}, {"offset": 0.5, "color": "#e8ebed"}, {"offset": 1, "color": "#ffffff"}]}},
    "axis": {"domainColor": "#000000", "domainWidth": 1, "tickColor": "#000000", "tickWidth": 1, "labelColor": "#1a1a1a", "labelFont": "Liberation Sans", "titleFont": "Liberation Sans", "titleFontSize": 13.5, "titleFontWeight": "normal", "titleColor": "#1a1a1a", "grid": false, "labelOverlap": false, "labelFlush": false, "labelBound": false},
    "text": {"font": "Liberation Sans", "fontSize": 13, "color": "#1a1a1a"}
  }
}
